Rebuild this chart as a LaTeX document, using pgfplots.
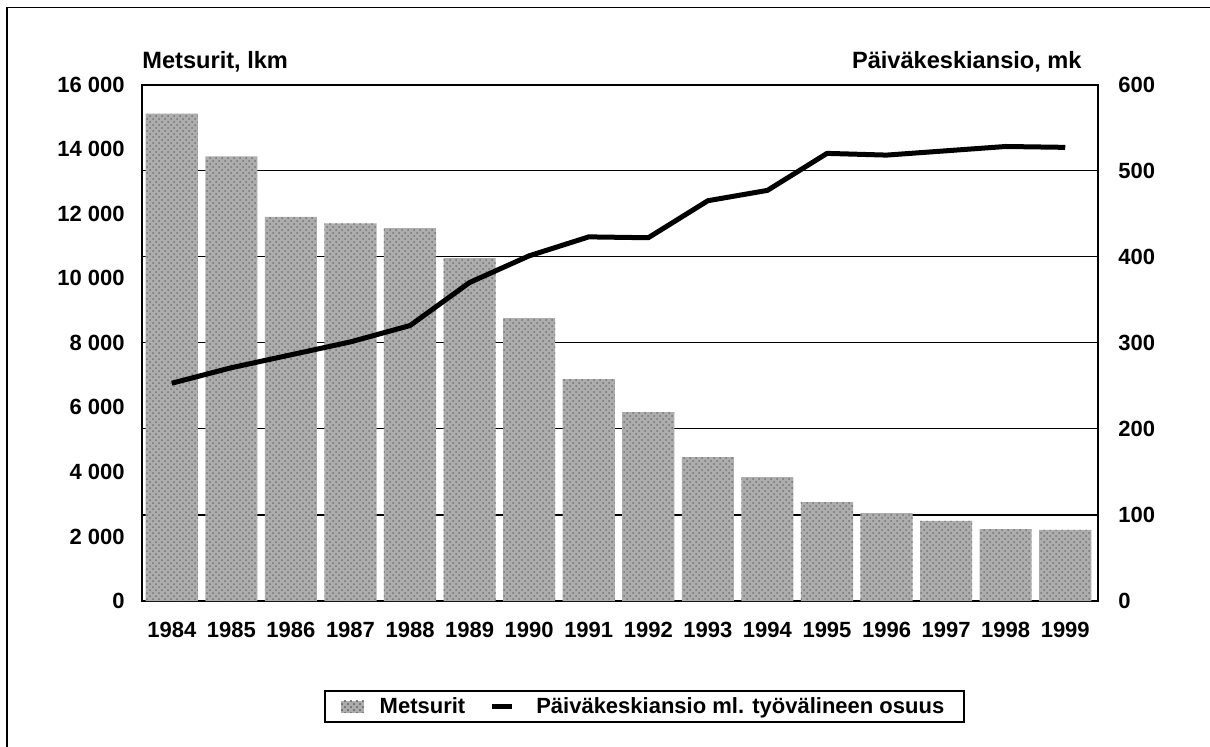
\documentclass[border=0pt]{standalone}
\usepackage{fontspec}
\setmainfont{Liberation Sans}
\usepackage{pgfplots}
\pgfplotsset{compat=1.18}
\usetikzlibrary{patterns}
\newcommand{\tickfont}{\bfseries\fontsize{11}{13}\selectfont}
\newcommand{\titlefont}{\bfseries\fontsize{11.8}{14}\selectfont}
\begin{document}
\begin{tikzpicture}[x=0.5pt,y=0.5pt]
\useasboundingbox (0,0) rectangle (1210,746);
\draw[line width=0.8pt] (7,-30) -- (7,738.5) -- (1240,738.5);
\begin{axis}[
  at={(71pt,72.5pt)}, anchor=south west,
  scale only axis, width=478pt, height=258.25pt,
  xmin=-0.5, xmax=15.55, ymin=0, ymax=16000,
  scaled y ticks=false,
  axis line style={line width=1pt},
  xtick={0,...,15},
  xticklabels={1984,1985,1986,1987,1988,1989,1990,1991,1992,1993,1994,1995,1996,1997,1998,1999},
  ytick={0,2000,...,16000},
  yticklabels={0,2 000,4 000,6 000,8 000,10 000,12 000,14 000,16 000},
  major tick length=0pt,
  tick label style={font=\tickfont, inner sep=0pt},
  yticklabel style={anchor=east, xshift=-8.5pt},
  xticklabel style={anchor=north, yshift=-10.5pt},
  extra y ticks={2666.667,5333.333,8000,10666.667,13333.333},
  extra y tick labels={},
  extra y tick style={grid=major, major grid style={black, line width=0.6pt}, major tick length=0pt},
  legend style={at={(0.5256,-0.205)}, anchor=center, legend columns=2,
    draw=black, line width=1pt, font=\tickfont, inner ysep=1pt, inner xsep=8pt,
    /tikz/every even column/.append style={column sep=10pt}},
  legend cell align=left,
]
\addplot[ybar, bar width=0.875, fill=black!32, draw=none,
  postaction={pattern=crosshatch dots, pattern color=black!55},
  legend image code/.code={\fill[black!32] (0pt,-3pt) rectangle (11.5pt,3pt);
     \fill[pattern=crosshatch dots, pattern color=black!55] (0pt,-3pt) rectangle (11.5pt,3pt);}]
  coordinates {
(0,15100) (1,13770) (2,11900) (3,11700) (4,11550) (5,10620) (6,8760) (7,6870)
(8,5850) (9,4460) (10,3840) (11,3060) (12,2720) (13,2480) (14,2230) (15,2200)};
\addlegendentry{\hspace{6pt}Metsurit}
\addlegendimage{line width=2.5pt, black,
  legend image code/.code={\draw[line width=2.5pt, black] (0pt,0pt) -- (10pt,0pt);}}
\addlegendentry{\hspace{9pt}Päiväkeskiansio ml. työvälineen osuus}
\end{axis}
\begin{axis}[
  at={(71pt,72.5pt)}, anchor=south west,
  scale only axis, width=478pt, height=258.25pt,
  xmin=-0.5, xmax=15.55, ymin=0, ymax=600,
  axis x line=none, axis y line*=right,
  axis line style={line width=1pt},
  ytick={0,100,...,600},
  major tick length=0pt,
  tick label style={font=\tickfont, inner sep=0pt},
  yticklabel style={anchor=west, xshift=10pt},
  /pgf/number format/assume math mode=true,
]
\addplot[line width=2.5pt, black, line join=round] coordinates {
(0,253) (1,271) (2,286) (3,301) (4,320) (5,370) (6,401) (7,423)
(8,422) (9,465) (10,477) (11,520) (12,518) (13,523) (14,528) (15,527)};
\end{axis}
\node[anchor=base west, inner sep=0pt, font=\titlefont] at (142,677) {Metsurit, lkm};
\node[anchor=base east, inner sep=0pt, font=\titlefont] at (1082,677) {Päiväkeskiansio, mk};
\end{tikzpicture}
\end{document}
